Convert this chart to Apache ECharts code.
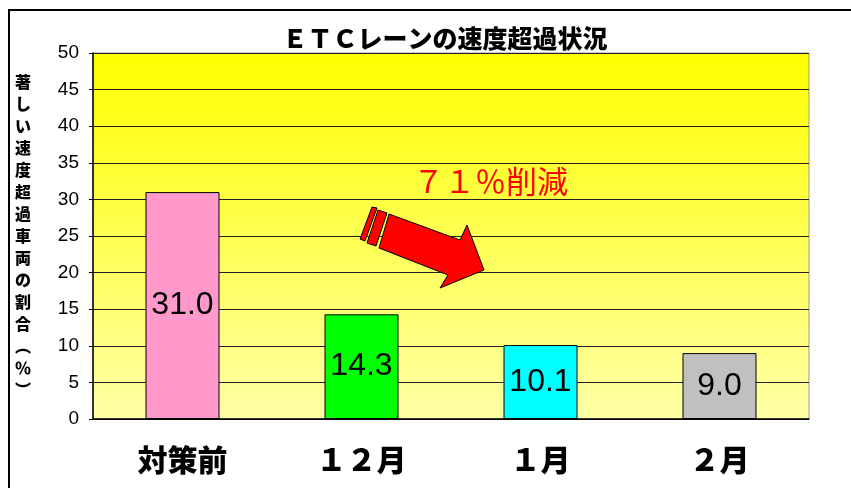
<!DOCTYPE html>
<html>
<head>
<meta charset="utf-8">
<script src="https://cdn.jsdelivr.net/npm/echarts@6/dist/echarts.min.js"></script>
<style>
  html, body { margin: 0; padding: 0; background: #fff; }
  #chart { width: 851px; height: 488px; }
</style>
</head>
<body>
<div id="chart"></div>
<script>
// chart data
const categories = ['対策前', '１２月', '１月', '２月'];
const values = [31.0, 14.3, 10.1, 9.0];
const barColors = ['#ff99cc', '#00ff00', '#00ffff', '#c0c0c0'];
const yTicks = [0, 5, 10, 15, 20, 25, 30, 35, 40, 45, 50];
const yName = ['著', 'し', 'い', '速', '度', '超', '過', '車', '両', 'の', '割', '合', '︵', '％', '︶'];

const chart = echarts.init(document.getElementById('chart'));

const option = {
  backgroundColor: '#fff',
  animation: false,
  title: {
    text: 'ＥＴＣレーンの速度超過状況',
    left: 440,
    top: 21,
    textAlign: 'center',
    textStyle: {
      fontFamily: 'Noto Sans CJK JP',
      fontWeight: 900,
      fontSize: 25,
      color: '#000'
    }
  },
  grid: {
    left: 93,
    right: 42,
    top: 53,
    bottom: 69,
    show: true,
    borderColor: '#999',
    borderWidth: 1,
    backgroundColor: new echarts.graphic.LinearGradient(0, 0, 0, 1, [
      { offset: 0, color: '#ffff00' },
      { offset: 1, color: '#ffffa6' }
    ])
  },
  xAxis: {
    type: 'category',
    data: categories,
    axisLine: { lineStyle: { color: '#000', width: 1.5 } },
    axisTick: { inside: true, length: 7, lineStyle: { color: '#000' } },
    axisLabel: {
      margin: 26,
      fontFamily: 'Noto Sans CJK JP',
      fontWeight: 900,
      fontSize: 30,
      color: '#000'
    }
  },
  yAxis: {
    type: 'value',
    min: yTicks[0],
    max: yTicks[yTicks.length - 1],
    interval: 5,
    name: yName.join('\n'),
    nameLocation: 'middle',
    nameRotate: 0,
    nameGap: 62,
    nameTextStyle: {
      fontFamily: 'Noto Sans CJK JP',
      fontWeight: 900,
      fontSize: 16,
      lineHeight: 22,
      padding: [14, 0, 0, 0],
      color: '#000'
    },
    axisLine: { show: true, lineStyle: { color: '#000', width: 1.5 } },
    axisTick: { show: true, length: 4, lineStyle: { color: '#000' } },
    splitLine: { lineStyle: { color: '#222', width: 1 } },
    axisLabel: {
      margin: 14,
      fontFamily: 'Liberation Sans',
      fontSize: 19,
      color: '#000'
    }
  },
  series: [{
    type: 'bar',
    barWidth: 74,
    data: values.map((v, i) => ({
      value: v,
      itemStyle: { color: barColors[i] }
    })),
    itemStyle: { borderColor: '#000', borderWidth: 1 },
    label: {
      show: true,
      position: 'inside',
      formatter: p => p.value.toFixed(1),
      fontFamily: 'Liberation Sans',
      fontSize: 32,
      color: '#000'
    }
  }],
  graphic: [
    {
      type: 'rect',
      shape: { x: 9, y: 10, width: 900, height: 500 },
      style: { fill: 'none', stroke: '#000', lineWidth: 2 },
      z: 100
    },
    {
      type: 'text',
      left: 413,
      top: 166,
      style: {
        text: '７１％削減',
        fontFamily: 'Noto Sans CJK JP',
        fontSize: 31,
        fill: '#ff0000'
      },
      z: 100
    },
    {
      type: 'polygon',
      shape: { points: [[372, 207], [377, 208], [365, 241], [360, 239]] },
      style: { fill: '#ff0000', stroke: '#000', lineWidth: 1 },
      z: 100
    },
    {
      type: 'polygon',
      shape: { points: [[378, 210], [387, 213], [376, 246], [367, 243]] },
      style: { fill: '#ff0000', stroke: '#000', lineWidth: 1 },
      z: 100
    },
    {
      type: 'polygon',
      shape: { points: [[389, 214], [460, 240], [467, 225], [484, 270], [440, 288], [448, 275], [379, 248]] },
      style: { fill: '#ff0000', stroke: '#000', lineWidth: 1 },
      z: 100
    }
  ]
};

chart.setOption(option);
</script>
</body>
</html>
